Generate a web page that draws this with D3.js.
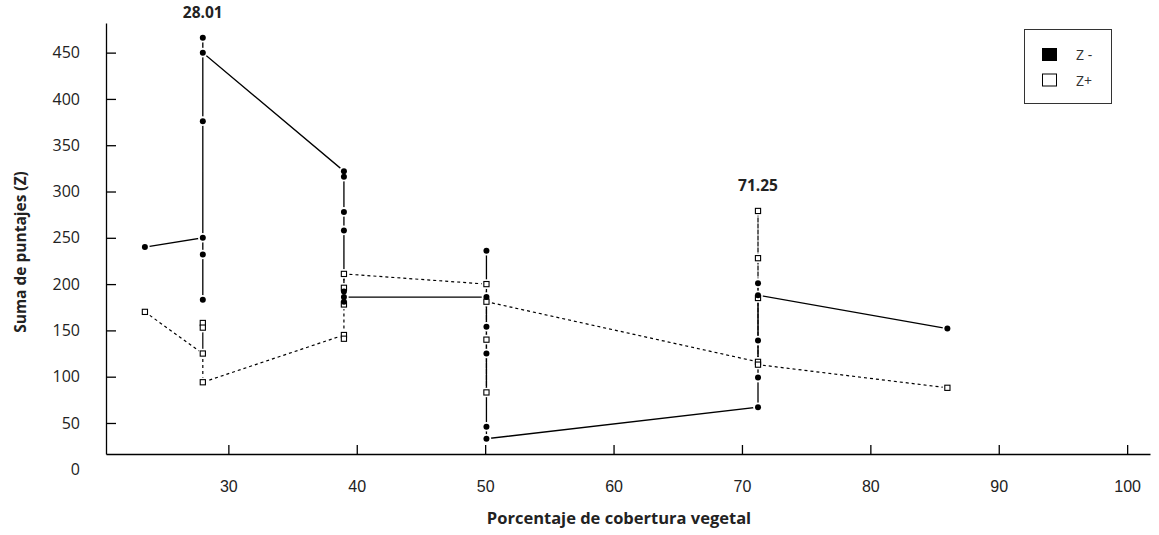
<!DOCTYPE html>
<html>
<head>
<meta charset="utf-8">
<script src="https://cdn.jsdelivr.net/npm/d3@7"></script>
<style>
  body { margin: 0; background: #fff; }
  svg { display: block; }
  .axis text { font-family: "Open Sans", sans-serif; fill: #222; }
  .axis path, .axis line { stroke: #000; stroke-width: 1.3; }
</style>
</head>
<body>
<div id="chart"></div>
<script>
// puntos en el orden en que los une la linea (varios valores por cobertura)
const zMinusX = [23.5, 28.01, 28.01, 28.01, 28.01, 28.01, 28.01, 39, 39, 39, 39, 39, 39, 39,
    50.1, 50.1, 50.1, 50.1, 50.1, 50.1, 71.25, 71.25, 71.25, 71.25, 71.25, 86];
const zMinusY = [240, 250, 232, 183, 376, 466, 450, 322, 316, 278, 258, 192, 181, 186,
    186, 236, 154, 125, 46, 33, 67, 99, 139, 201, 188, 152];

const zPlusX = [23.5, 28.01, 28.01, 28.01, 28.01, 39, 39, 39, 39, 39,
    50.1, 50.1, 50.1, 50.1, 71.25, 71.25, 71.25, 71.25, 71.25, 86];
const zPlusY = [170, 125, 158, 153, 94, 145, 141, 178, 196, 211,
    200, 83, 140, 181, 116, 279, 228, 185, 113, 88];

const seriesNames = ['Z -', 'Z+'];
const xTicks = [30, 40, 50, 60, 70, 80, 90, 100];
const yTicks = [0, 50, 100, 150, 200, 250, 300, 350, 400, 450];
const annotX = [28.01, 71.25];
const annotText = ['28.01', '71.25'];

const W = 1159, H = 535;

const svg = d3.select('#chart').append('svg')
    .attr('width', W)
    .attr('height', H);

const x = d3.scaleLinear().domain([20.47, 101.78]).range([106, 1150]);
const y = d3.scaleLinear().domain([16.5, 482]).range([454, 23]);

// ejes
const xAxis = svg.append('g')
    .attr('class', 'axis')
    .attr('transform', `translate(0,${y.range()[0]})`)
    .call(d3.axisBottom(x).tickValues(xTicks).tickSize(-9).tickSizeOuter(0).tickPadding(27));
xAxis.selectAll('text')
    .style('font-family', '"Liberation Sans Narrow", sans-serif')
    .style('font-size', '16px');

const yAxis = svg.append('g')
    .attr('class', 'axis')
    .attr('transform', `translate(${x.range()[0]},0)`)
    .call(d3.axisLeft(y).tickValues(yTicks).tickSize(-10).tickSizeOuter(0).tickPadding(26));
yAxis.selectAll('text').style('font-size', '16px');
yAxis.selectAll('.tick').filter(d => d === 0).select('line').remove();

// titulos
svg.append('text')
    .attr('transform', `translate(26,252) rotate(-90)`)
    .attr('text-anchor', 'middle')
    .style('font-family', '"Open Sans", sans-serif')
    .style('font-weight', 'bold')
    .style('font-size', '15.5px')
    .style('fill', '#222')
    .text('Suma de puntajes (Z)');

svg.append('text')
    .attr('x', 619)
    .attr('y', 524)
    .attr('text-anchor', 'middle')
    .style('font-family', '"Open Sans", sans-serif')
    .style('font-weight', 'bold')
    .style('font-size', '16.5px')
    .style('fill', '#222')
    .text('Porcentaje de cobertura vegetal');

// lineas
const zMinus = zMinusX.map((v, i) => ({ x: v, y: zMinusY[i] }));
const zPlus = zPlusX.map((v, i) => ({ x: v, y: zPlusY[i] }));

const line = d3.line().x(d => x(d.x)).y(d => y(d.y));

svg.append('path')
    .datum(zPlus)
    .attr('d', line)
    .attr('fill', 'none')
    .attr('stroke', '#000')
    .attr('stroke-width', 1.2)
    .attr('stroke-dasharray', '3,3');

svg.append('path')
    .datum(zMinus)
    .attr('d', line)
    .attr('fill', 'none')
    .attr('stroke', '#000')
    .attr('stroke-width', 1.3);

// halo blanco alrededor de los marcadores
svg.append('g').selectAll('circle')
    .data(zMinus.concat(zPlus))
    .enter()
    .append('circle')
    .attr('cx', d => x(d.x))
    .attr('cy', d => y(d.y))
    .attr('r', 4.8)
    .attr('fill', '#fff');

svg.append('g').selectAll('rect')
    .data(zPlus)
    .enter()
    .append('rect')
    .attr('x', d => x(d.x) - 2.6)
    .attr('y', d => y(d.y) - 2.6)
    .attr('width', 5.2)
    .attr('height', 5.2)
    .attr('fill', '#fff')
    .attr('stroke', '#000')
    .attr('stroke-width', 1.1);

svg.append('g').selectAll('circle')
    .data(zMinus)
    .enter()
    .append('circle')
    .attr('cx', d => x(d.x))
    .attr('cy', d => y(d.y))
    .attr('r', 3)
    .attr('fill', '#000');

// etiquetas sobre los grupos
svg.append('g').selectAll('text')
    .data(annotX)
    .enter()
    .append('text')
    .attr('x', d => x(d))
    .attr('y', d => {
        const top = d3.max(zMinus.concat(zPlus).filter(p => p.x === d), p => p.y);
        return y(top) - 20;
    })
    .attr('text-anchor', 'middle')
    .style('font-family', '"Open Sans", sans-serif')
    .style('font-weight', 'bold')
    .style('font-size', '15.5px')
    .style('fill', '#222')
    .text((d, i) => annotText[i]);

// leyenda
const legend = svg.append('g');
legend.append('rect')
    .attr('x', 1024.5)
    .attr('y', 29.5)
    .attr('width', 87)
    .attr('height', 74)
    .attr('fill', '#fff')
    .attr('stroke', '#333')
    .attr('stroke-width', 1);

const items = legend.selectAll('.item')
    .data(seriesNames)
    .enter()
    .append('g')
    .attr('class', 'item')
    .attr('transform', (d, i) => `translate(1042,${48 + i * 25.5})`);

items.append('rect')
    .attr('x', 0.5)
    .attr('y', 0.5)
    .attr('width', 14)
    .attr('height', 12)
    .attr('fill', (d, i) => i === 0 ? '#000' : '#fff')
    .attr('stroke', '#000')
    .attr('stroke-width', 1);

items.append('text')
    .attr('x', 34)
    .attr('y', 12)
    .style('font-family', '"Open Sans", sans-serif')
    .style('font-size', '14px')
    .style('fill', '#333')
    .text(d => d);
</script>
</body>
</html>
